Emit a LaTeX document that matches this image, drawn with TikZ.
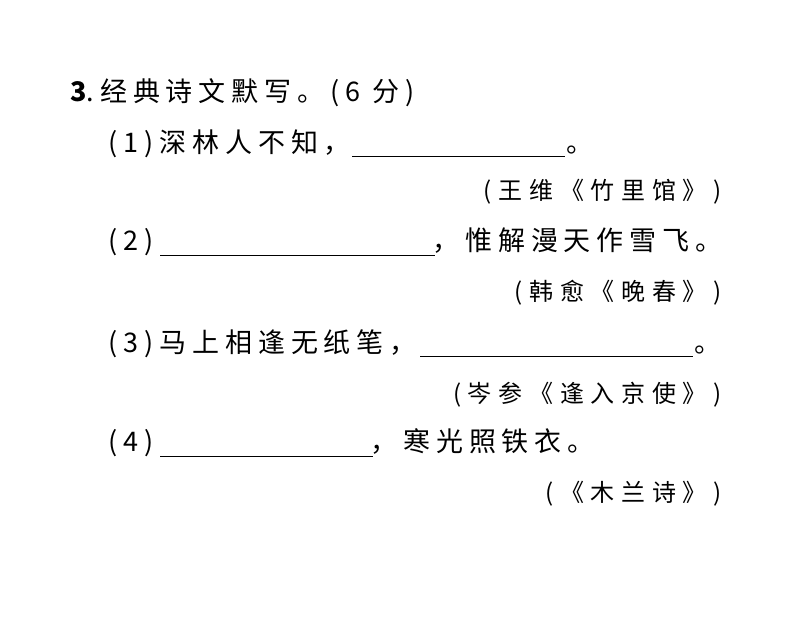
\documentclass[tikz,border=0pt]{standalone}
\usepackage{fontspec}
\newfontfamily\cjk[LetterSpace=22]{Noto Sans CJK SC}
\newfontfamily\cjks[LetterSpace=28]{Noto Sans CJK SC}
\begin{document}
\begin{tikzpicture}[x=1pt,y=-1pt,
  txt/.style={font=\cjk\fontsize{27}{27}\selectfont,inner sep=0pt,anchor=base west},
  src/.style={font=\cjks\fontsize{24}{24}\selectfont,inner sep=0pt,anchor=base east},
  blank/.style={line width=1pt}]
\useasboundingbox (0,0) rectangle (794,644);
\node[txt] (t0) at (70,102) {\textbf{3}.经典诗文默写。(6 分)};
\node[txt] (t1) at (108,153) {(1)深林人不知，};
\coordinate (b1s) at (352,157); \coordinate (b1e) at (565,157);
\draw[blank] (b1s) -- (b1e);
\node[txt] (t1e) at (566,153) {。};
\node[src] (s1) at (722,200) {(王维《竹里馆》)};
\node[txt] (t2) at (108,250) {(2)};
\coordinate (b2s) at (160,255); \coordinate (b2e) at (435,255);
\draw[blank] (b2s) -- (b2e);
\node[txt] (t2e) at (432,250) {，惟解漫天作雪飞。};
\node[src] (s2) at (722,300) {(韩愈《晚春》)};
\node[txt] (t3) at (108,352) {(3)马上相逢无纸笔，};
\coordinate (b3s) at (420,356); \coordinate (b3e) at (693,356);
\draw[blank] (b3s) -- (b3e);
\node[txt] (t3e) at (694,352) {。};
\node[src] (s3) at (722,402) {(岑参《逢入京使》)};
\node[txt] (t4) at (108,451) {(4)};
\coordinate (b4s) at (160,456); \coordinate (b4e) at (373,456);
\draw[blank] (b4s) -- (b4e);
\node[txt] (t4e) at (370,451) {，寒光照铁衣。};
\node[src] (s4) at (722,501) {(《木兰诗》)};
\end{tikzpicture}
\end{document}
